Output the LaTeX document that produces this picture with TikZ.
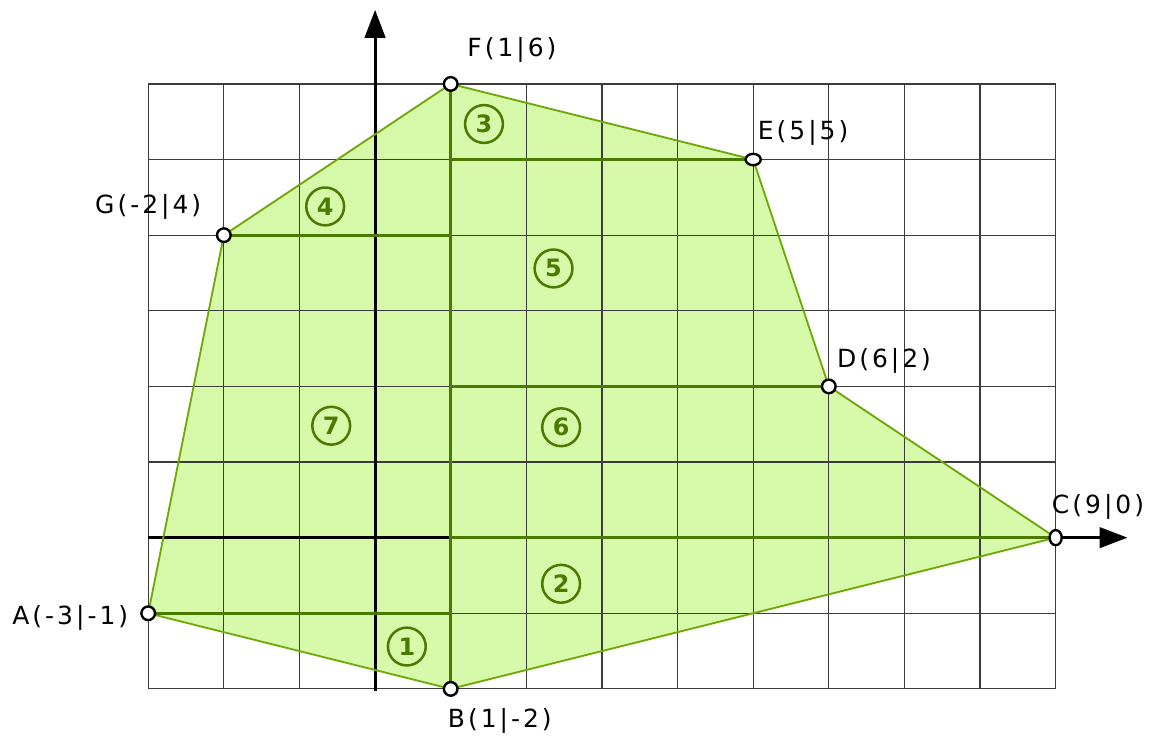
\documentclass[tikz,border=0pt]{standalone}
\usepackage{fontspec}
\setmainfont{DejaVu Sans}[LetterSpace=12]
\newfontfamily\numfont{DejaVu Sans}
\usepackage{tikz}
\usetikzlibrary{arrows.meta,positioning,shapes.geometric}
\definecolor{areaF}{RGB}{214,250,170}
\definecolor{edgeG}{RGB}{112,168,10}
\definecolor{partG}{RGB}{74,122,0}
\definecolor{gridK}{RGB}{60,60,60}

\begin{document}
\begin{tikzpicture}[font=\fontsize{9.4}{11}\selectfont, >={Triangle[length=3.7mm,width=2.7mm]},
  pt/.style={ellipse, draw=black, fill=white, line width=0.9pt, minimum width=1.8mm, minimum height=1.8mm, inner sep=0},
  lbl/.style={inner sep=1pt},
  part/.style={circle, draw=partG, text=partG, line width=0.95pt, minimum size=5mm, inner sep=0,
    font=\numfont\bfseries\fontsize{9}{9}\selectfont},
  cut/.style={draw=partG, line width=1.2pt},
  axis/.style={draw=black, line width=1.1pt}]
  \useasboundingbox (-4.96,-2.66) rectangle (10.34,7.11);
  % corners of the polygon
  \coordinate (pA) at (-3,-1);
  \coordinate (pB) at (1,-2);
  \coordinate (pC) at (9,0);
  \coordinate (pD) at (6,2);
  \coordinate (pE) at (5,5);
  \coordinate (pF) at (1,6);
  \coordinate (pG) at (-2,4);
  % axis ends
  \coordinate (xs) at (-3,0);
  \coordinate (xe) at (9.95,0);
  \coordinate (ys) at (0,-2.03);
  \coordinate (ye) at (0,6.98);

  \fill[areaF] (pA) -- (pB) -- (pC) -- (pD) -- (pE) -- (pF) -- (pG) -- cycle;
  \draw[gridK, line width=0.45pt] (-3,-2) grid (9,6);
  \draw[axis,->] (xs) -- (xe);
  \draw[axis,->] (ys) -- (ye);
  \draw[edgeG, line width=0.7pt] (pA) -- (pB) -- (pC) -- (pD) -- (pE) -- (pF) -- (pG) -- cycle;

  % cuts into parts
  \draw[cut] (pB) -- (pF);
  \draw[cut] (pA) -- (pA -| pB);
  \draw[cut] (pC) -- (pC -| pB);
  \draw[cut] (pD) -- (pD -| pB);
  \draw[cut] (pG) -- (pG -| pB);
  \draw[cut] (pE) -- (pE -| pB);

  \node[pt] (A) at (pA) {};
  \node[pt] (B) at (pB) {};
  \node[pt, minimum width=1.6mm, minimum height=2.0mm] (C) at (pC) {};
  \node[pt] (D) at (pD) {};
  \node[pt, minimum width=2.0mm, minimum height=1.5mm] (E) at (pE) {};
  \node[pt] (F) at (pF) {};
  \node[pt] (G) at (pG) {};

  \node[lbl] (lA) at (-4.03,-1.06) {A(-3|-1)};
  \node[lbl] (lB) at (1.65,-2.42) {B(1|-2)};
  \node[lbl] (lC) at (9.56,0.41) {C(9|0)};
  \node[lbl] (lD) at (6.73,2.34) {D(6|2)};
  \node[lbl] (lE) at (5.66,5.35) {E(5|5)};
  \node[lbl] (lF) at (1.81,6.45) {F(1|6)};
  \node[lbl] (lG) at (-3.0,4.37) {G(-2|4)};

  \node[part] (n1) at (0.42,-1.44) {1};
  \node[part] (n2) at (2.46,-0.61) {2};
  \node[part] (n3) at (1.44,5.47) {3};
  \node[part] (n4) at (-0.66,4.38) {4};
  \node[part] (n5) at (2.36,3.56) {5};
  \node[part] (n6) at (2.46,1.46) {6};
  \node[part] (n7) at (-0.58,1.48) {7};
\end{tikzpicture}
\end{document}
